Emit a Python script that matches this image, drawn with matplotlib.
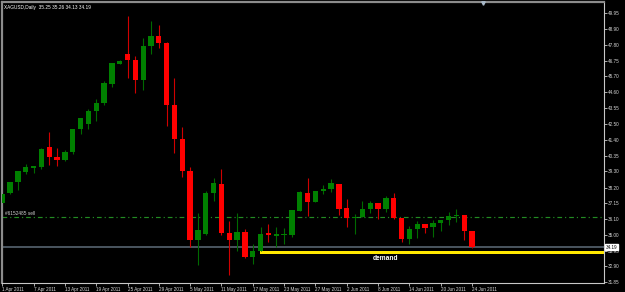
import matplotlib.pyplot as plt
import matplotlib.transforms as mtransforms
from matplotlib.patches import Rectangle
import numpy as np

chart_title = 'XAGUSD,Daily  35.25 35.26 34.13 34.19'

# daily OHLC, 1 Apr 2011 .. 24 Jun 2011 (weekdays)
opens = [37.16, 37.84, 38.58, 39.25, 39.52, 39.59, 40.93, 40.26, 40.06, 40.60,
         42.14, 42.48, 43.36, 43.89, 45.17, 46.52, 47.19, 46.79, 45.44, 47.73,
         48.40, 47.93, 43.76, 41.47, 39.32, 34.68, 35.08, 37.84, 38.44, 35.15,
         34.68, 35.21, 33.53, 33.93, 35.15, 34.94, 35.01, 35.01, 36.63, 37.84,
         37.23, 37.97, 38.11, 38.44, 36.83, 36.16, 36.22, 36.76, 37.16, 36.76,
         37.50, 36.16, 34.74, 35.41, 35.75, 35.55, 35.82, 36.02, 36.29, 36.36,
         35.25]
highs = [37.90, 38.58, 39.32, 39.79, 39.65, 40.87, 41.94, 40.87, 40.73, 42.14,
         42.88, 43.49, 44.16, 45.37, 46.59, 46.79, 49.75, 47.06, 48.27, 49.41,
         49.14, 47.99, 45.58, 42.28, 39.59, 36.49, 37.97, 38.85, 39.45, 35.95,
         36.49, 35.41, 34.41, 35.55, 35.75, 35.55, 35.48, 36.69, 37.97, 38.85,
         37.97, 38.38, 38.78, 38.44, 37.43, 36.42, 37.30, 37.30, 37.16, 37.64,
         37.84, 36.16, 35.62, 35.95, 35.75, 36.02, 36.02, 36.56, 36.76, 36.36,
         35.26]
lows = [37.10, 37.77, 38.04, 39.12, 39.18, 39.45, 39.72, 39.65, 39.99, 40.46,
        41.81, 42.14, 42.68, 43.76, 44.97, 46.52, 45.58, 44.57, 44.77, 47.19,
        47.59, 42.35, 40.53, 38.91, 34.20, 32.99, 35.01, 37.30, 35.01, 32.32,
        33.93, 33.46, 33.06, 33.93, 34.54, 34.20, 34.41, 34.88, 36.63, 36.29,
        37.23, 37.77, 37.90, 36.36, 35.55, 35.08, 36.22, 36.49, 36.09, 36.56,
        36.09, 34.54, 34.41, 34.81, 35.15, 34.88, 35.28, 35.68, 35.89, 34.68,
        34.13]
closes = [37.77, 38.58, 39.32, 39.59, 39.65, 40.80, 40.26, 40.06, 40.60, 42.14,
          42.88, 43.36, 43.89, 45.24, 46.59, 46.72, 46.79, 45.44, 47.73, 48.40,
          47.93, 43.76, 41.47, 39.32, 34.68, 35.34, 37.84, 38.51, 35.15, 34.68,
          35.21, 33.53, 33.93, 35.08, 35.01, 35.08, 35.08, 36.69, 37.90, 37.23,
          37.97, 38.11, 38.51, 36.76, 36.16, 36.22, 36.76, 37.16, 36.76, 37.50,
          36.16, 34.74, 35.41, 35.75, 35.48, 35.82, 36.02, 36.29, 36.32, 35.28,
          34.19]

date_labels = ['1 Apr 2011', '7 Apr 2011', '13 Apr 2011', '19 Apr 2011',
               '25 Apr 2011', '29 Apr 2011', '5 May 2011', '11 May 2011',
               '17 May 2011', '23 May 2011', '27 May 2011', '2 Jun 2011',
               '8 Jun 2011', '14 Jun 2011', '20 Jun 2011', '24 Jun 2011']
price_ticks = [49.95, 48.90, 47.80, 46.75, 45.70, 44.60, 43.55, 42.50, 41.40,
               40.35, 39.30, 38.20, 37.15, 36.10, 35.00, 33.95, 32.90, 31.85]

order_price = 36.22
order_label = '#6152485 sell'
bid_price = 34.19
zone_start = 32.9
zone_low = 33.74
zone_high = 33.96
zone_label = 'demand'
zone_label_x = 48.9
zone_label_y = 33.40

plt.rcParams['font.family'] = ['Liberation Sans', 'DejaVu Sans']

fig = plt.figure(figsize=(6.25, 2.92), dpi=100, facecolor='black')
ax = fig.add_axes([2 / 625, 9 / 292, 602 / 625, 281 / 292])
ax.set_facecolor('black')

o = np.array(opens)
h = np.array(highs)
l = np.array(lows)
c = np.array(closes)
x = np.arange(len(o))
up = c >= o

wick_cols = np.where(up, '#006a00', '#d00000')
body_cols = np.where(up, '#008000', '#ff0000')

# horizontal objects first so candles sit on top
ax.axhline(order_price, color='#228b22', lw=0.85, linestyle=(0, (4, 2.5, 1, 2.5)), zorder=1)
ax.axhline(bid_price, color='#4f5b66', lw=1.3, zorder=1)
ax.add_patch(Rectangle((zone_start, zone_low), 100, zone_high - zone_low,
                       color='#ffe800', lw=0, zorder=1))

ax.vlines(x, l, h, colors=wick_cols, linewidth=0.8, zorder=2)
body_h = np.maximum(np.abs(c - o), 0.04)
ax.bar(x, body_h, bottom=np.minimum(o, c), width=0.68, color=body_cols,
       linewidth=0, zorder=3)

ax.set_xlim(-0.03, 76.86)
ax.set_ylim(31.78, 50.69)

ax.set_xticks(x[::4])
ax.set_xticklabels(date_labels)
for lbl in ax.get_xticklabels():
    lbl.set_ha('left')
ax.yaxis.tick_right()
ax.set_yticks(price_ticks)
ax.set_yticklabels([f'{p:.2f}' for p in price_ticks])
ax.tick_params(colors='#c8c8c8', labelcolor='#d8d8d8', labelsize=3.3,
               length=2, width=0.6, pad=1)

for side in ['left', 'top']:
    ax.spines[side].set_color('#8c8c8c')
    ax.spines[side].set_linewidth(1.6)
for side in ['right', 'bottom']:
    ax.spines[side].set_color('#c8c8c8')
    ax.spines[side].set_linewidth(0.8)

ax.text(0.004, 0.988, chart_title, transform=ax.transAxes, color='white',
        fontsize=3.4, va='top', ha='left')
ax.text(0.36, order_price + 0.08, order_label, color='#d0d0d0', fontsize=3.4,
        va='bottom', ha='left')
ax.text(zone_label_x, zone_label_y, zone_label, color='white', fontsize=4.8,
        fontweight='bold', ha='center', va='center')

trans = mtransforms.blended_transform_factory(ax.transAxes, ax.transData)
ax.text(1.003, bid_price, f'{bid_price:.2f}', transform=trans, color='black',
        fontsize=3.3, va='center', ha='left', zorder=5,
        bbox=dict(boxstyle='square,pad=0.15', fc='white', ec='white'))

# chart shift marker
ax.plot([61.4], [50.62], marker='v', color='#a8b8c8', markersize=2.5,
        clip_on=False, zorder=5)

fig.savefig('out.png', dpi=100, facecolor='black')
